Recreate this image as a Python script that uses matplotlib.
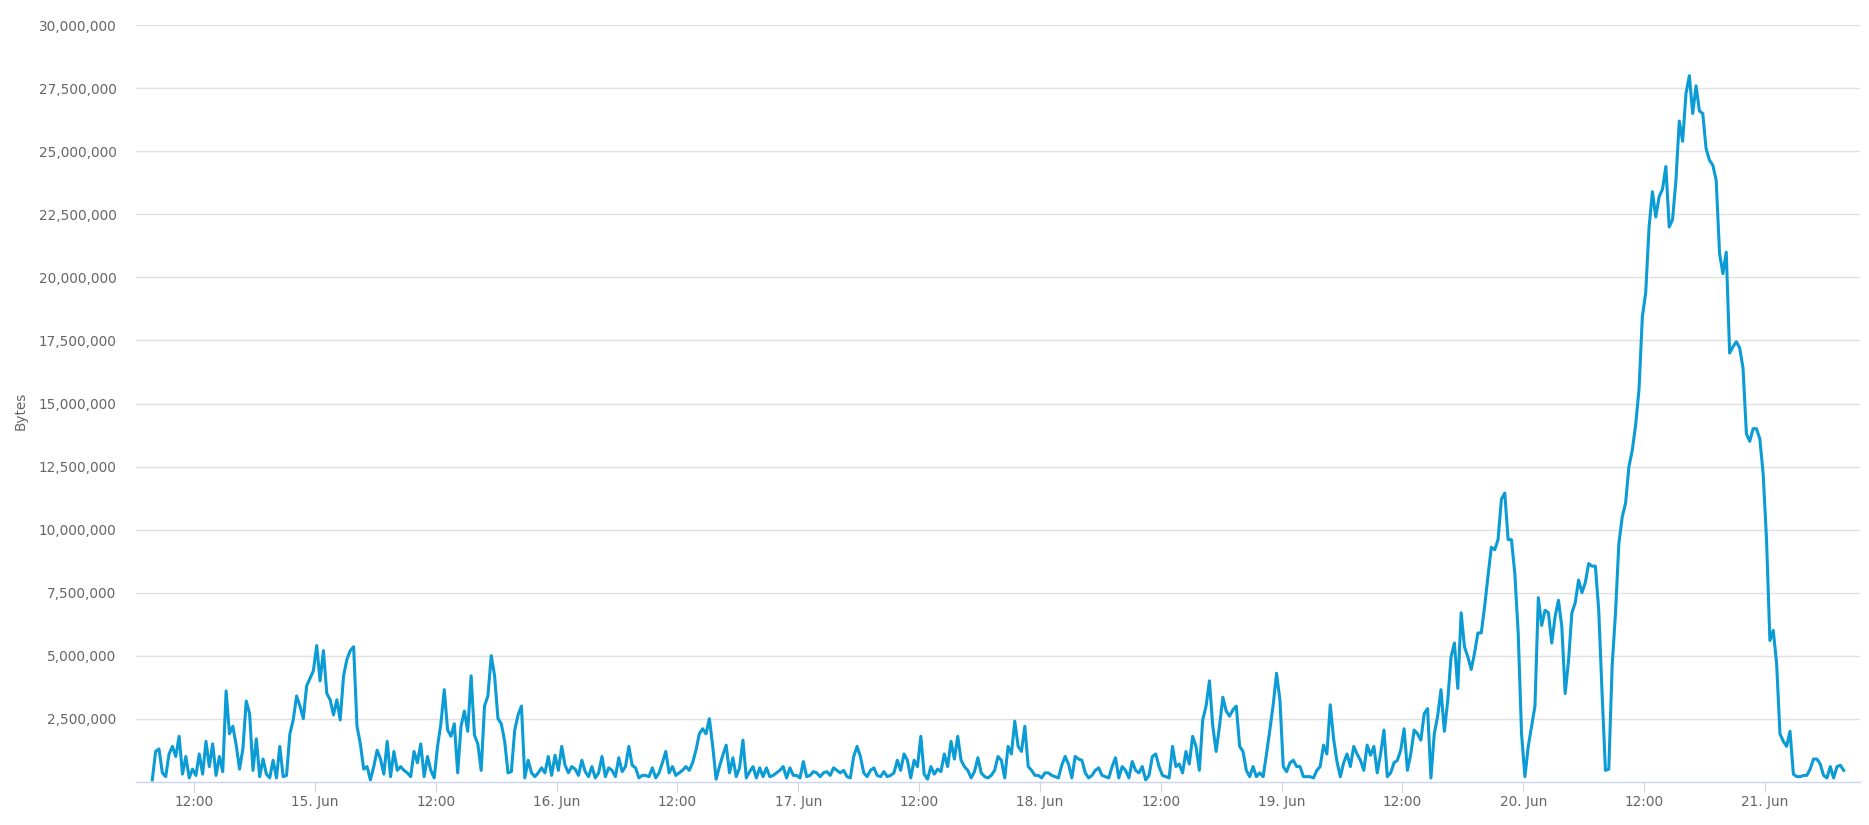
import matplotlib
matplotlib.use("Agg")
import matplotlib.pyplot as plt
import matplotlib.dates as mdates
from matplotlib.ticker import FuncFormatter, FixedLocator
import pandas as pd

# traffic samples, every 20 minutes from 14 Jun 07:50 (values in millions of bytes)
start_time = "2014-06-14 07:50"
step = "20min"
bytes_millions = [
    0.07, 1.2, 1.3, 0.35, 0.2, 1.1, 1.4, 1.0, 1.8, 0.3,
    1.0, 0.15, 0.5, 0.25, 1.1, 0.3, 1.6, 0.6, 1.5, 0.25,
    1.0, 0.4, 3.6, 1.9, 2.2, 1.45, 0.5, 1.3, 3.2, 2.7,
    0.45, 1.7, 0.2, 0.9, 0.3, 0.15, 0.85, 0.15, 1.4, 0.2,
    0.25, 1.9, 2.45, 3.4, 3.0, 2.5, 3.8, 4.1, 4.4, 5.4,
    4.0, 5.2, 3.5, 3.25, 2.65, 3.25, 2.45, 4.2, 4.85, 5.2,
    5.35, 2.2, 1.5, 0.5, 0.6, 0.07, 0.6, 1.25, 0.9, 0.3,
    1.6, 0.2, 1.2, 0.45, 0.6, 0.45, 0.35, 0.2, 1.2, 0.75,
    1.5, 0.2, 1.0, 0.45, 0.15, 1.4, 2.3, 3.65, 2.05, 1.8,
    2.3, 0.35, 2.2, 2.8, 2.0, 4.2, 1.85, 1.5, 0.45, 3.0,
    3.4, 5.0, 4.2, 2.5, 2.3, 1.6, 0.35, 0.4, 2.05, 2.65,
    3.0, 0.15, 0.85, 0.35, 0.2, 0.35, 0.55, 0.35, 1.0, 0.25,
    1.05, 0.45, 1.4, 0.65, 0.35, 0.6, 0.5, 0.25, 0.85, 0.4,
    0.2, 0.6, 0.15, 0.35, 1.0, 0.2, 0.55, 0.45, 0.2, 0.95,
    0.4, 0.6, 1.4, 0.65, 0.55, 0.15, 0.25, 0.25, 0.2, 0.55,
    0.15, 0.35, 0.75, 1.2, 0.35, 0.6, 0.25, 0.35, 0.45, 0.6,
    0.45, 0.75, 1.25, 1.9, 2.1, 1.9, 2.5, 1.4, 0.1, 0.6,
    1.05, 1.45, 0.35, 0.95, 0.2, 0.55, 1.65, 0.15, 0.4, 0.6,
    0.15, 0.55, 0.2, 0.55, 0.2, 0.25, 0.35, 0.45, 0.6, 0.15,
    0.55, 0.25, 0.25, 0.15, 0.8, 0.2, 0.25, 0.4, 0.35, 0.2,
    0.35, 0.4, 0.25, 0.55, 0.45, 0.35, 0.45, 0.2, 0.15, 1.0,
    1.4, 1.0, 0.35, 0.2, 0.45, 0.55, 0.25, 0.2, 0.4, 0.2,
    0.25, 0.35, 0.85, 0.45, 1.1, 0.85, 0.15, 0.85, 0.6, 1.8,
    0.3, 0.1, 0.6, 0.3, 0.5, 0.4, 1.1, 0.6, 1.6, 0.9,
    1.8, 0.85, 0.6, 0.45, 0.15, 0.4, 0.95, 0.35, 0.2, 0.15,
    0.25, 0.45, 1.0, 0.85, 0.15, 1.4, 1.1, 2.4, 1.4, 1.2,
    2.2, 0.6, 0.45, 0.25, 0.25, 0.15, 0.35, 0.35, 0.25, 0.2,
    0.15, 0.65, 1.0, 0.7, 0.15, 1.0, 0.9, 0.85, 0.35, 0.15,
    0.25, 0.45, 0.55, 0.25, 0.2, 0.15, 0.6, 0.95, 0.15, 0.6,
    0.45, 0.15, 0.8, 0.45, 0.35, 0.6, 0.07, 0.25, 1.0, 1.1,
    0.6, 0.25, 0.2, 0.15, 1.4, 0.6, 0.7, 0.35, 1.2, 0.7,
    1.8, 1.4, 0.45, 2.45, 3.0, 4.0, 2.2, 1.2, 2.2, 3.35,
    2.8, 2.6, 2.85, 3.0, 1.4, 1.2, 0.45, 0.2, 0.6, 0.2,
    0.35, 0.2, 1.1, 2.05, 3.05, 4.3, 3.25, 0.6, 0.4, 0.75,
    0.85, 0.6, 0.6, 0.2, 0.2, 0.2, 0.15, 0.45, 0.6, 1.45,
    1.1, 3.05, 1.7, 0.8, 0.2, 0.75, 1.1, 0.6, 1.4, 1.1,
    0.85, 0.45, 1.45, 1.05, 1.4, 0.35, 1.1, 2.05, 0.2, 0.35,
    0.75, 0.85, 1.25, 2.1, 0.45, 1.1, 2.05, 1.9, 1.65, 2.7,
    2.9, 0.15, 1.9, 2.6, 3.65, 2.0, 3.2, 4.95, 5.5, 3.7,
    6.7, 5.35, 4.95, 4.45, 5.1, 5.9, 5.9, 6.95, 8.15, 9.3,
    9.2, 9.6, 11.2, 11.45, 9.6, 9.6, 8.25, 5.9, 1.9, 0.2,
    1.4, 2.2, 3.0, 7.3, 6.2, 6.8, 6.7, 5.5, 6.55, 7.2,
    6.15, 3.5, 4.8, 6.7, 7.1, 8.0, 7.5, 7.9, 8.65, 8.55,
    8.55, 6.8, 3.5, 0.45, 0.5, 4.6, 6.7, 9.45, 10.5, 11.05,
    12.5, 13.15, 14.15, 15.55, 18.45, 19.4, 22.0, 23.4, 22.4, 23.2,
    23.5, 24.4, 22.0, 22.3, 23.85, 26.2, 25.4, 27.3, 28.0, 26.5,
    27.6, 26.6, 26.5, 25.1, 24.65, 24.45, 23.85, 20.95, 20.15, 21.0,
    17.0, 17.25, 17.45, 17.2, 16.4, 13.8, 13.5, 14.0, 14.0, 13.6,
    12.2, 9.6, 5.6, 6.0, 4.7, 1.9, 1.6, 1.4, 2.0, 0.3,
    0.2, 0.2, 0.25, 0.25, 0.5, 0.9, 0.9, 0.7, 0.25, 0.15,
    0.6, 0.15, 0.6, 0.65, 0.45,
]
y_ticks = [2.5e6 * i for i in range(1, 13)]

LINE = "#0b9bd5"
GRID = "#e0e0e0"
AXIS = "#ccd6eb"
LABEL = "#666666"

times = pd.date_range(start_time, periods=len(bytes_millions), freq=step)
values = [v * 1e6 for v in bytes_millions]

fig = plt.figure(figsize=(18.69, 8.25), dpi=100, facecolor="white")
ax = fig.add_axes([136 / 1869, 1 - 781.7 / 825, 1724 / 1869, 756.4 / 825])

ax.plot(times, values, color=LINE, linewidth=2.2, solid_joinstyle="round")

pad = pd.Timedelta(minutes=97)
ax.set_xlim(times[0] - pad, times[-1] + pad)
ax.set_ylim(0, 30e6)

# gridlines
ax.yaxis.set_major_locator(FixedLocator(y_ticks))
ax.yaxis.set_major_formatter(FuncFormatter(lambda v, p: f"{v:,.0f}"))
ax.grid(axis="y", color=GRID, linewidth=1.0)
ax.set_axisbelow(True)

ax.xaxis.set_major_locator(mdates.HourLocator(byhour=[0, 12]))

def fmt_date(v, p):
    d = mdates.num2date(v)
    if d.hour == 0:
        return f"{d.day}. {d.strftime('%b')}"
    return d.strftime("%H:%M")

ax.xaxis.set_major_formatter(FuncFormatter(fmt_date))

for side in ("top", "right", "left"):
    ax.spines[side].set_visible(False)
ax.spines["bottom"].set_color(AXIS)
ax.spines["bottom"].set_linewidth(1.0)

ax.tick_params(axis="y", length=0, pad=14, labelsize=9.8, labelcolor=LABEL)
ax.tick_params(axis="x", length=7.2, width=0.8, color=AXIS, direction="out",
               pad=2.5, labelsize=9.8, labelcolor=LABEL)

fig.text(21 / 1869, 1 - 411 / 825, "Bytes", rotation=90, ha="center",
         va="center", fontsize=9.8, color=LABEL)

fig.savefig("out.png", dpi=100, facecolor="white")
